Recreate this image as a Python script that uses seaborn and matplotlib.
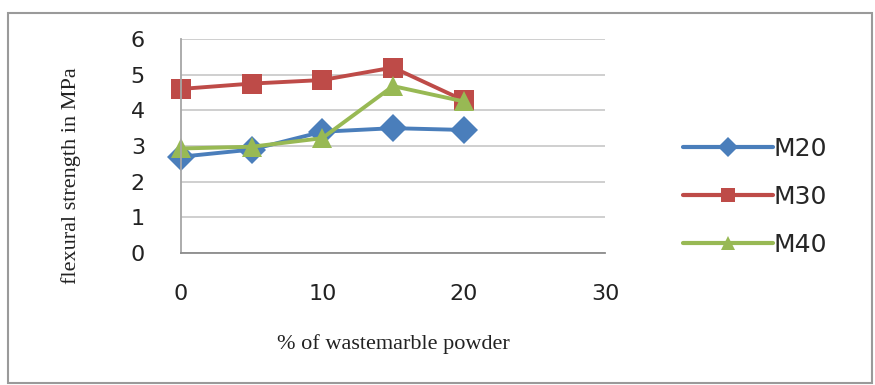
import matplotlib
matplotlib.use("Agg")
import matplotlib.pyplot as plt
import seaborn as sns
import pandas as pd
from matplotlib.patches import Rectangle

# Flexural strength (MPa) vs. percentage of waste marble powder
marble_pct = [0, 5, 10, 15, 20]
m20 = [2.70, 2.90, 3.40, 3.50, 3.45]
m30 = [4.60, 4.75, 4.85, 5.20, 4.28]
m40 = [2.93, 2.98, 3.22, 4.68, 4.25]
grades = ["M20", "M30", "M40"]
y_ticks = [0, 1, 2, 3, 4, 5, 6]
x_ticks = [0, 10, 20, 30]

df = pd.DataFrame({
    "pct": marble_pct * 3,
    "strength": m20 + m30 + m40,
    "grade": [g for g in grades for _ in marble_pct],
})

sns.set_theme(style="white")
plt.rcParams["font.family"] = ["DejaVu Sans"]

fig = plt.figure(figsize=(8.75, 3.85), dpi=100)
ax = fig.add_axes([181 / 875, 1 - 253 / 385, (605 - 181) / 875, (253 - 39) / 385])

palette = {"M20": "#4A7EBB", "M30": "#BE4B48", "M40": "#98B954"}
markers = {"M20": "D", "M30": "s", "M40": "^"}
sns.lineplot(data=df, x="pct", y="strength", hue="grade", style="grade",
             palette=palette, markers=markers, dashes=False, linewidth=2.8,
             markersize=14, markeredgewidth=0, ax=ax, legend=True)
for line in ax.lines:
    line.set_clip_on(False)

ax.set_xlim(0, 30)
ax.set_ylim(0, 6)
ax.set_xticks(x_ticks)
ax.set_yticks(y_ticks)
ax.yaxis.grid(True, color="#CFCFCF", linewidth=1.4)
ax.xaxis.grid(False)
ax.set_axisbelow(True)
for side in ["top", "right"]:
    ax.spines[side].set_visible(False)
ax.spines["left"].set_color("#A6A6A6")
ax.spines["bottom"].set_color("#8C8C8C")
ax.spines["left"].set_linewidth(1.3)
ax.spines["bottom"].set_linewidth(1.3)
ax.tick_params(axis="both", length=0, labelsize=16, colors="#222222")
ax.tick_params(axis="y", pad=26)
ax.tick_params(axis="x", pad=22)

ax.set_xlabel("% of wastemarble powder", family="Liberation Serif", fontsize=16,
              color="#222222", labelpad=22)
ax.set_ylabel("flexural strength in MPa", family="Liberation Serif", fontsize=16,
              color="#222222")
ax.yaxis.set_label_coords(-0.235, 0.36)

handles, labels = ax.get_legend_handles_labels()
for h in handles:
    h.set_markersize(10)
    h.set_linewidth(3)
ax.legend(handles, labels, loc="center left", bbox_to_anchor=(660 / 875, 1 - 197 / 385),
          bbox_transform=fig.transFigure, frameon=False, fontsize=18,
          handlelength=3.6, handletextpad=0.05, labelspacing=0.95)

# Outer chart-area border
fig.patches.append(Rectangle((8 / 875, 2 / 385), 864 / 875, 370 / 385,
                             transform=fig.transFigure, fill=False,
                             edgecolor="#9A9A9A", linewidth=1.5))

fig.savefig("out.png", dpi=100, facecolor="white")
